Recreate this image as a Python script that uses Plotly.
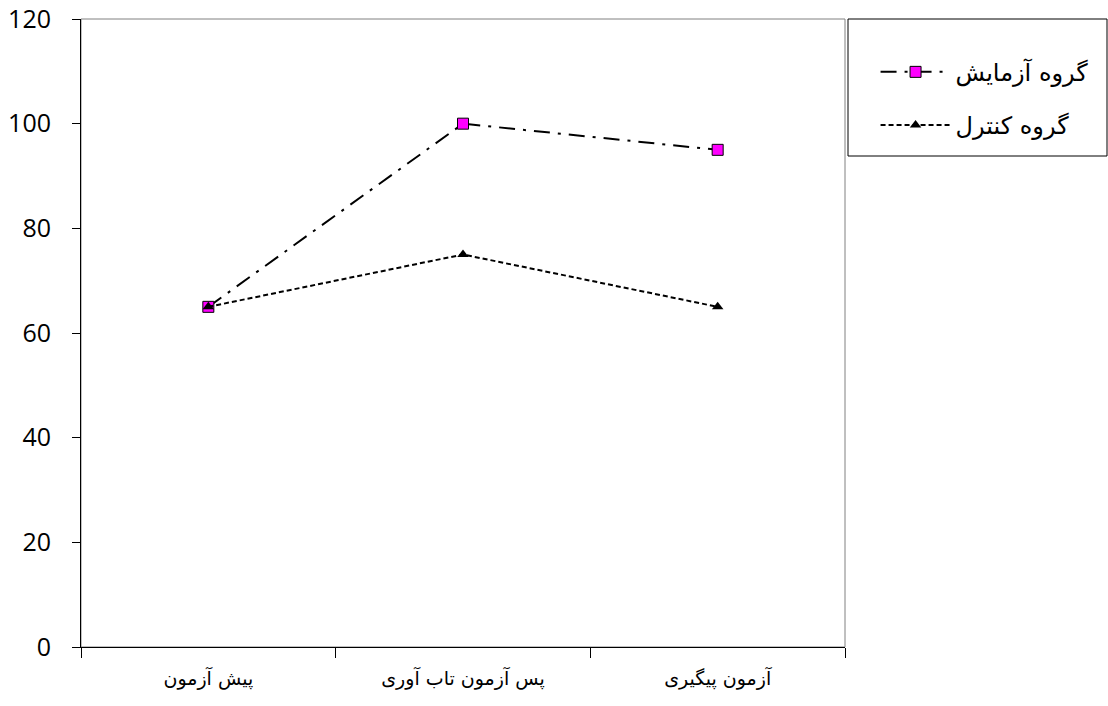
import plotly.graph_objects as go

categories = ["پیش آزمون", "پس آزمون تاب آوری", "آزمون پیگیری"]
experimental = [65, 100, 95]
control = [65, 75, 65]
y_ticks = [0, 20, 40, 60, 80, 100, 120]

ar_font = "'DejaVu Sans', serif"

fig = go.Figure()
fig.add_trace(go.Scatter(
    x=categories, y=experimental, mode="lines+markers", name="گروه آزمایش",
    legendgroup="a",
    line=dict(color="black", width=2, dash="16px,8px,3px,8px"),
    marker=dict(symbol="square", size=11, color="#FF00FF", line=dict(color="black", width=1)),
))
fig.add_trace(go.Scatter(
    x=categories, y=control, mode="lines+markers", name="گروه کنترل",
    legendgroup="b",
    line=dict(color="black", width=2, dash="5px,3px"),
    marker=dict(symbol="triangle-up", size=10, color="black"),
))

fig.update_layout(
    width=1108, height=706,
    margin=dict(l=81, r=263, t=19, b=59, autoexpand=False),
    plot_bgcolor="white", paper_bgcolor="white",
    showlegend=True,
    legend=dict(
        x=1.04, y=0.951, xanchor="left", yanchor="top",
        font=dict(family=ar_font, size=24, color="black"),
        traceorder="grouped", tracegroupgap=19, itemwidth=70,
        bgcolor="rgba(0,0,0,0)", borderwidth=0,
    ),
    shapes=[
        dict(type="rect", xref="paper", yref="paper", x0=0, x1=1, y0=0, y1=1,
             line=dict(color="#808080", width=1), layer="below"),
        dict(type="rect", xref="paper", yref="paper",
             x0=(848 - 81) / 764, x1=(1107 - 81) / 764,
             y0=(647 - 156) / 628, y1=1,
             line=dict(color="black", width=1)),
    ],
)
fig.update_xaxes(
    type="category", range=[-0.5, 2.5], showline=True, linecolor="black", linewidth=1,
    ticks="outside", tickson="boundaries", ticklen=10, tickcolor="black",
    showgrid=False, tickfont=dict(family=ar_font, size=19, color="black"),
    ticklabelstandoff=14, automargin=False,
)
fig.update_yaxes(
    range=[0, 120], tickvals=y_ticks, showline=True, linecolor="black", linewidth=1,
    ticks="outside", ticklen=8, tickcolor="black", showgrid=False, zeroline=False,
    tickfont=dict(family="'Open Sans', sans-serif", size=25, color="black"),
    ticklabelstandoff=16, automargin=False,
)

fig.write_html(
    "out.html",
    config={"displayModeBar": False},
    post_script="document.body.style.margin='0';document.body.style.padding='0';",
)
